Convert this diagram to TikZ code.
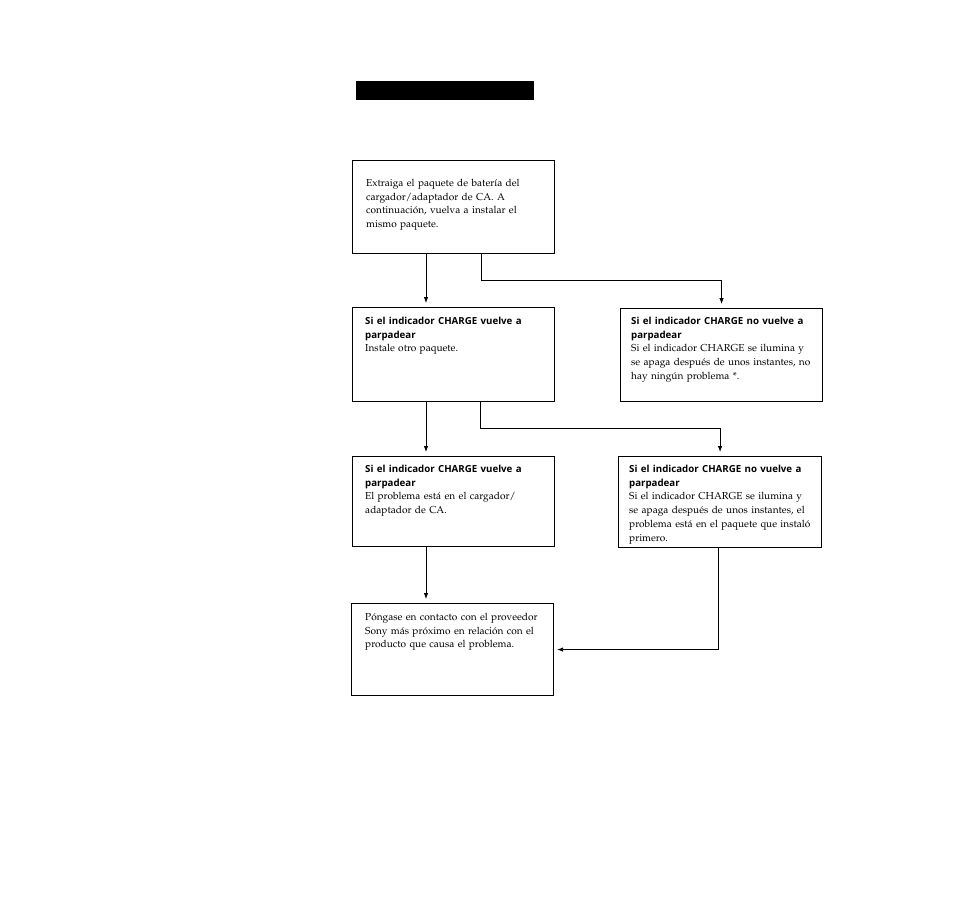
\documentclass[tikz,border=0pt]{standalone}
\usepackage{fontspec}
\newfontfamily\headfont{Open Sans}
\usepackage[T1]{fontenc}
\renewcommand{\rmdefault}{ppl}
\usetikzlibrary{arrows.meta}
\tikzset{
  box/.style={draw, line width=1.1pt, anchor=north west, inner sep=0pt},
  txt/.style={anchor=north west, inner sep=0pt, text width=205pt, align=left,
              font=\rmfamily\fontsize{10.1}{13.7}\selectfont},
  conn/.style={line width=0.8pt, -{Latex[length=6pt,width=4.5pt]}, shorten >=4pt},
}
\newcommand{\hdtext}[1]{{\headfont\bfseries\fontsize{9.7}{13.7}\selectfont #1}}
\begin{document}
\begin{tikzpicture}[x=1pt,y=-1pt]
\useasboundingbox (0,0) rectangle (954,898);
\fill[white] (0,0) rectangle (954,898);
\node[fill=black, minimum width=178pt, minimum height=19pt, anchor=north west, inner sep=0pt] (bar) at (356,81) {};

\node[box, minimum width=202pt, minimum height=93pt] (b1) at (352,160) {};
\node[box, minimum width=202pt, minimum height=94pt] (b2) at (352,307) {};
\node[box, minimum width=202pt, minimum height=93pt] (b3) at (620,308) {};
\node[box, minimum width=202pt, minimum height=90pt] (b4) at (352,456) {};
\node[box, minimum width=203pt, minimum height=91pt] (b5) at (618,456) {};
\node[box, minimum width=202pt, minimum height=92pt] (b6) at (351,603) {};

\node[txt] (t1) at (366,179) {Extraiga el paquete de batería del\\cargador/adaptador de CA. A\\continuación, vuelva a instalar el\\mismo paquete.};
\node[txt] (t2) at (365,317) {\hdtext{Si el indicador CHARGE vuelve a\\parpadear}\\Instale otro paquete.};
\node[txt] (t3) at (631,317) {\hdtext{Si el indicador CHARGE no vuelve a\\parpadear}\\Si el indicador CHARGE se ilumina y\\se apaga después de unos instantes, no\\hay ningún problema *.};
\node[txt] (t4) at (365,465) {\hdtext{Si el indicador CHARGE vuelve a\\parpadear}\\El problema está en el cargador/\\adaptador de CA.};
\node[txt] (t5) at (629,465) {\hdtext{Si el indicador CHARGE no vuelve a\\parpadear}\\Si el indicador CHARGE se ilumina y\\se apaga después de unos instantes, el\\problema está en el paquete que instaló\\primero.};
\node[txt] (t6) at (365,613) {Póngase en contacto con el proveedor\\Sony más próximo en relación con el\\producto que causa el problema.};

\coordinate (xa) at (426,0);
\coordinate (xb) at (481,0);
\coordinate (xc) at (480,0);
\coordinate (xd) at (718,0);

\draw[conn] (b1.south -| xa) -- (b2.north -| xa);
\draw[conn] (b1.south -| xb) -- ++(0,26) -| (b3.north);
\draw[conn] (b2.south -| xa) -- (b4.north -| xa);
\draw[conn] (b2.south -| xc) -- ++(0,26) -| (b5.north);
\draw[conn] (b4.south -| xa) -- (b6.north -| xa);
\draw[conn, shorten >=3pt] (b5.south -| xd) |- (b6.east);
\end{tikzpicture}
\end{document}
